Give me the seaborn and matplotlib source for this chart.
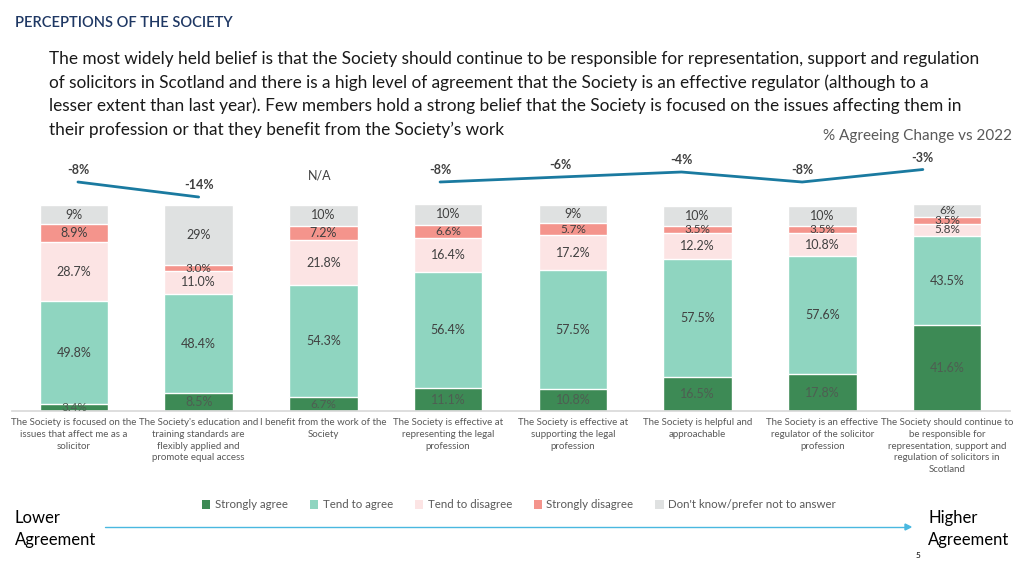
import numpy as np
import pandas as pd
import seaborn as sns
import matplotlib.pyplot as plt
from matplotlib.patches import Patch

# Statements (x axis), left = lower agreement, right = higher agreement
statements = [
    "The Society is focused on the\nissues that affect me as a\nsolicitor",
    "The Society's education and\ntraining standards are\nflexibly applied and\npromote equal access",
    "I benefit from the work of the\nSociety",
    "The Society is effective at\nrepresenting the legal\nprofession",
    "The Society is effective at\nsupporting the legal\nprofession",
    "The Society is helpful and\napproachable",
    "The Society is an effective\nregulator of the solicitor\nprofession",
    "The Society should continue to\nbe responsible for\nrepresentation, support and\nregulation of solicitors in\nScotland",
]

# Response shares (%), bottom to top of each bar
strongly_agree = [3.4, 8.5, 6.7, 11.1, 10.8, 16.5, 17.8, 41.6]
tend_agree = [49.8, 48.4, 54.3, 56.4, 57.5, 57.5, 57.6, 43.5]
tend_disagree = [28.7, 11.0, 21.8, 16.4, 17.2, 12.2, 10.8, 5.8]
strongly_disagree = [8.9, 3.0, 7.2, 6.6, 5.7, 3.5, 3.5, 3.5]
dont_know = [9, 29, 10, 10, 9, 10, 10, 6]

# % agreeing change vs 2022 (None = N/A)
change_2022 = [-8, -14, None, -8, -6, -4, -8, -3]

series_names = ["Strongly agree", "Tend to agree", "Tend to disagree",
                "Strongly disagree", "Don't know/prefer not to answer"]
series_vals = [strongly_agree, tend_agree, tend_disagree, strongly_disagree, dont_know]
colors = ["#3d8a55", "#8fd5c0", "#fce4e4", "#f4948c", "#dfe1e1"]
label_fmt = ["{:.1f}%", "{:.1f}%", "{:.1f}%", "{:.1f}%", "{:.0f}%"]

sns.set_theme(style="white")
plt.rcParams["font.family"] = ["Lato", "DejaVu Sans"]

fig = plt.figure(figsize=(10.24, 5.76), dpi=100)

# ---- stacked bars ----
ax = fig.add_axes([11.5 / 1024, 1 - 411 / 576, 998 / 1024, 208 / 576])
keys = [f"s{i}" for i in range(len(statements))]
vals = np.array(series_vals)
cum = np.cumsum(vals, axis=0)

# draw cumulative totals from the top layer down so each one covers the rest
for k in range(len(series_names) - 1, -1, -1):
    df = pd.DataFrame({"statement": keys, "total": cum[k]})
    sns.barplot(data=df, x="statement", y="total", color=colors[k],
                saturation=1, width=0.55, ax=ax, order=keys)

for k in range(len(series_names)):
    for i in range(len(keys)):
        mid = cum[k, i] - vals[k, i] / 2
        txt_color = "#4e5e52" if k == 0 else "#404040"
        # thin segments get a slightly smaller label
        fs = 8.5 if vals[k, i] < 7 else 9
        ax.text(i, mid, label_fmt[k].format(vals[k, i]), ha="center", va="center",
                fontsize=fs, color=txt_color)

ax.set_ylim(0, 101)
ax.set_xlim(-0.5, len(keys) - 0.5)
ax.set_xticks(range(len(keys)))
ax.set_xticklabels(statements, fontsize=7, color="#595959", linespacing=1.4)
ax.tick_params(axis="x", length=0, pad=5)
ax.set_yticks([])
ax.set_xlabel("")
ax.set_ylabel("")
for s in ["top", "left", "right"]:
    ax.spines[s].set_visible(False)
ax.spines["bottom"].set_color("#d9d9d9")
ax.patch.set_alpha(0)

# ---- change vs 2022 line ----
lax = fig.add_axes([17.6 / 1024, 1 - 205 / 576, 965.6 / 1024, 55 / 576])
line_df = pd.DataFrame({"pos": np.arange(len(change_2022)),
                        "change": [np.nan if v is None else v for v in change_2022]})
line_df["seg"] = line_df["change"].isna().cumsum()
line_df = line_df.dropna()
sns.lineplot(data=line_df, x="pos", y="change", units="seg", estimator=None,
             color="#1a7aa0", linewidth=2, ax=lax)
for i, v in enumerate(change_2022):
    if v is None:
        lax.text(i, -5.2, "N/A", ha="center", va="center", fontsize=9, color="#404040")
    else:
        lax.annotate(f"{v}%", (i, v), xytext=(0, 4), textcoords="offset points",
                     ha="center", va="bottom", fontsize=9, fontweight="bold", color="#404040")
lax.set_xlim(-0.5, len(change_2022) - 0.5)
lax.set_ylim(-17.2, 4.8)
lax.axis("off")

# ---- legend ----
handles = [Patch(facecolor=c, edgecolor="none") for c in colors]
fig.legend(handles, series_names, loc="center", bbox_to_anchor=(0.507, 1 - 505 / 576),
           ncol=5, frameon=False, fontsize=8.3, handlelength=0.7, handleheight=0.7,
           handletextpad=0.4, columnspacing=1.9, labelcolor="#595959")

# ---- titles and text ----
fig.text(15 / 1024, 1 - 23 / 576, "PERCEPTIONS OF THE SOCIETY", ha="left", va="center",
         fontsize=10.5, color="#1f3864", fontweight="semibold")
body_lines = [
    "The most widely held belief is that the Society should continue to be responsible for representation, support and regulation",
    "of solicitors in Scotland and there is a high level of agreement that the Society is an effective regulator (although to a",
    "lesser extent than last year). Few members hold a strong belief that the Society is focused on the issues affecting them in",
    "their profession or that they benefit from the Society\u2019s work",
]
for j, line in enumerate(body_lines):
    fig.text(49 / 1024, 1 - (59 + 23.5 * j) / 576, line, ha="left", va="center",
             fontsize=12.4, color="#1a1a1a")
fig.text(1012 / 1024, 1 - 136 / 576, "% Agreeing Change vs 2022", ha="right", va="center",
         fontsize=11, color="#595959")

fig.text(15 / 1024, 1 - 529 / 576, "Lower\nAgreement", ha="left", va="center",
         fontsize=12, color="black", linespacing=1.45)
fig.text(928 / 1024, 1 - 529 / 576, "Higher\nAgreement", ha="left", va="center",
         fontsize=12, color="black", linespacing=1.45)
fig.add_artist(plt.Line2D([105 / 1024, 905 / 1024], [1 - 527 / 576] * 2,
                          color="#4ab8e0", linewidth=1))
fig.patches.append(plt.Polygon([[905 / 1024, 1 - 524 / 576], [911 / 1024, 1 - 527 / 576],
                                [905 / 1024, 1 - 530 / 576]], closed=True, color="#4ab8e0",
                               transform=fig.transFigure, figure=fig))
fig.text(918 / 1024, 1 - 555 / 576, "5", ha="center", va="center", fontsize=6, color="black")

fig.savefig("out.png", dpi=100)
